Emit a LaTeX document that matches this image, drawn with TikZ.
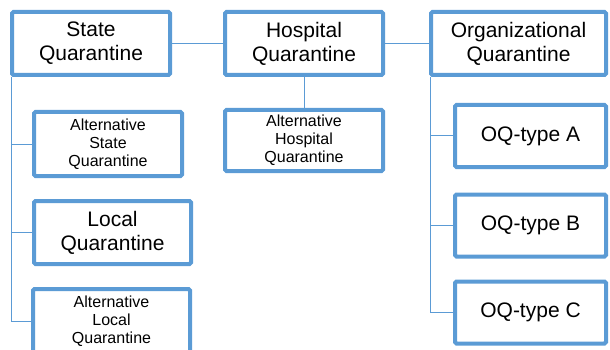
\documentclass[tikz,border=0pt]{standalone}
\usepackage{fontspec}
\setmainfont{Liberation Sans}
\definecolor{qblue}{HTML}{5B9BD5}
\tikzset{conn/.style={qblue,line width=1pt}, qbox/.style={draw=qblue, line width=4pt, fill=white, text=black, rounded corners=1.5pt, align=center, inner sep=0pt}}
\tikzset{bigq/.style={qbox, font=\fontsize{21}{24}\selectfont}, smallq/.style={qbox, font=\fontsize{16}{18}\selectfont}}

\begin{document}
\begin{tikzpicture}[x=1pt,y=-1pt]
  \useasboundingbox (0,0) rectangle (610,350);
  \clip (0,0) rectangle (610,350);
  % top row
  \node[bigq, minimum width=158pt, minimum height=63pt] (state) at (91,43.5) {State\\Quarantine};
  \node[bigq, minimum width=158pt, minimum height=63pt] (hosp) at (304,43.5) {Hospital\\Quarantine};
  \node[bigq, minimum width=175pt, minimum height=63pt] (org) at (518.5,43.5) {Organizational\\Quarantine};
  % state branch
  \node[smallq, minimum width=148pt, minimum height=64pt] (altstate) at (108,144) {Alternative\\State\\Quarantine};
  \node[bigq, minimum width=157pt, minimum height=63pt] (local) at (112.5,232.5) {Local\\Quarantine};
  \node[smallq, minimum width=157pt, minimum height=64pt] (altlocal) at (111.5,321) {Alternative\\Local\\Quarantine};
  % hospital branch
  \node[smallq, minimum width=158pt, minimum height=61pt] (althosp) at (304,140.5) {Alternative\\Hospital\\Quarantine};
  % organizational branch
  \node[bigq, minimum width=151pt, minimum height=62pt] (oqa) at (530.5,136) {OQ-type A};
  \node[bigq, minimum width=151pt, minimum height=62pt] (oqb) at (530.5,225.5) {OQ-type B};
  \node[bigq, minimum width=151pt, minimum height=62pt] (oqc) at (530.5,312.5) {OQ-type C};

  \draw[conn] (state) -- (hosp);
  \draw[conn] (hosp) -- (org);
  \draw[conn] (hosp) -- (althosp);
  \draw[conn] ([xshift=1pt]state.south west) |- (altstate.west);
  \draw[conn] ([xshift=1pt]state.south west) |- (local.west);
  \draw[conn] ([xshift=1pt]state.south west) |- (altlocal.west);
  \draw[conn] ([xshift=1pt]org.south west) |- (oqa.west);
  \draw[conn] ([xshift=1pt]org.south west) |- (oqb.west);
  \draw[conn] ([xshift=1pt]org.south west) |- (oqc.west);
\end{tikzpicture}
\end{document}
